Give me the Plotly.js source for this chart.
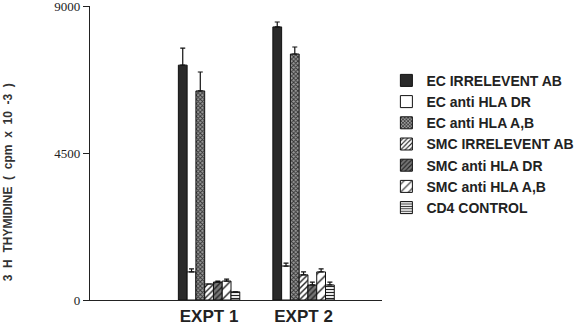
<!DOCTYPE html>
<html>
<head>
<meta charset="utf-8">
<script src="https://cdn.plot.ly/plotly-3.0.1.min.js"></script>
<style>html,body{margin:0;padding:0;background:#fff;}#chart{width:585px;height:326px;}</style>
</head>
<body>
<div id="chart"></div>
<script>
const categories = ["EXPT 1", "EXPT 2"];
const seriesNames = ["EC IRRELEVENT AB", "EC anti HLA DR", "EC anti HLA A,B", "SMC IRRELEVENT AB", "SMC anti HLA DR", "SMC anti HLA A,B", "CD4 CONTROL"];
const ecIrrelevent = [7190, 8360];
const ecAntiDR = [860, 1040];
const ecAntiAB = [6400, 7530];
const smcIrrelevent = [490, 770];
const smcAntiDR = [550, 460];
const smcAntiAB = [580, 860];
const cd4Control = [250, 460];
const errEcIrrelevent = [520, 150];
const errEcAntiDR = [90, 90];
const errEcAntiAB = [580, 215];
const errSmcIrrelevent = [0, 90];
const errSmcAntiDR = [30, 90];
const errSmcAntiAB = [60, 90];
const errCd4Control = [0, 90];
const yTicks = [0, 4500, 9000];
const yTitle = '3  H  THYMIDINE  (  cpm  x  10  -3  )';

const values = [ecIrrelevent, ecAntiDR, ecAntiAB, smcIrrelevent, smcAntiDR, smcAntiAB, cd4Control];
const errors = [errEcIrrelevent, errEcAntiDR, errEcAntiAB, errSmcIrrelevent, errSmcAntiDR, errSmcAntiAB, errCd4Control];
const styles = [
  {color: '#2a2a2a', pattern: {shape: ''}},
  {color: '#ffffff', pattern: {shape: ''}},
  {color: '#ffffff', pattern: {shape: 'x', fgcolor: '#333', bgcolor: '#999', size: 3, solidity: 0.5}},
  {color: '#ffffff', pattern: {shape: '/', fgcolor: '#222', bgcolor: '#fff', size: 4, solidity: 0.35}},
  {color: '#ffffff', pattern: {shape: '/', fgcolor: '#222', bgcolor: '#777', size: 4, solidity: 0.35}},
  {color: '#ffffff', pattern: {shape: '/', fgcolor: '#222', bgcolor: '#fff', size: 7, solidity: 0.2}},
  {color: '#ffffff', pattern: {shape: '-', fgcolor: '#222', bgcolor: '#fff', size: 3, solidity: 0.4}}
];

const traces = seriesNames.map((name, i) => ({
  type: 'bar',
  name: name,
  x: categories,
  y: values[i],
  marker: {
    color: styles[i].color,
    pattern: styles[i].pattern,
    line: {color: '#111', width: 1}
  },
  error_y: {type: 'data', symmetric: false, array: errors[i], arrayminus: errors[i].map(() => 0), color: '#111', thickness: 1.2, width: 2.5, visible: true}
}));

const layout = {
  width: 585, height: 326,
  margin: {l: 90, r: 200, t: 6, b: 26},
  paper_bgcolor: '#fff', plot_bgcolor: '#fff',
  barmode: 'group', bargap: 0.35, bargroupgap: 0,
  showlegend: true,
  legend: {x: 1.015, y: 0.8, xanchor: 'left', yanchor: 'top', font: {family: 'Liberation Sans, Arial, sans-serif', size: 14, color: '#222', weight: 'bold'}, bgcolor: 'rgba(0,0,0,0)', tracegroupgap: 0},
  xaxis: {
    type: 'category', range: [-1.26, 1.83],
    showline: true, linecolor: '#222', linewidth: 1.2,
    ticks: '', showgrid: false, zeroline: false,
    tickfont: {family: 'Liberation Sans, Arial, sans-serif', size: 17, color: '#222', weight: 'bold'}
  },
  yaxis: {
    range: [0, 9000], tickvals: yTicks, ticktext: yTicks.map(String),
    showline: true, linecolor: '#222', linewidth: 1.2,
    ticks: 'outside', ticklen: 6, tickcolor: '#222',
    ticklabeloverflow: 'allow',
    showgrid: false, zeroline: false,
    tickfont: {family: 'Liberation Serif, Times New Roman, serif', size: 13, color: '#222'}
  },
  annotations: [{
    text: yTitle, xref: 'paper', yref: 'paper', x: -0.278, y: 0.40,
    xanchor: 'center', yanchor: 'middle', textangle: -90, showarrow: false,
    font: {family: 'Liberation Sans, Arial, sans-serif', size: 12, color: '#333', weight: 'bold'}
  }]
};

Plotly.newPlot('chart', traces, layout, {displayModeBar: false, staticPlot: true});
</script>
</body>
</html>
